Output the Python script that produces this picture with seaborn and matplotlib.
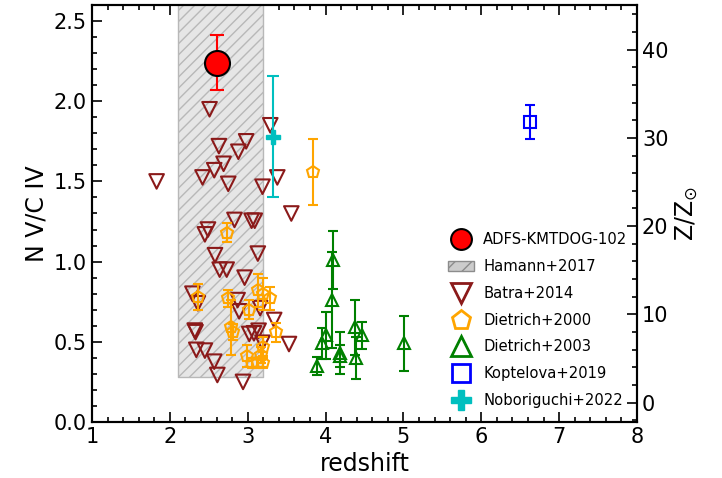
import numpy as np
import seaborn as sns
import matplotlib.pyplot as plt
from matplotlib.lines import Line2D
from matplotlib.patches import Patch
from matplotlib.ticker import MultipleLocator

# ADFS-KMTDOG-102
adfs_z = [2.60]
adfs_r = [2.24]
adfs_e = [0.17]

# Hamann+2017 region
ham_x = [2.1, 3.2]
ham_ylo = 0.28
ham_yhi = 3.0

# Batra+2014
batra_z = [1.83, 2.51, 3.29, 2.98, 2.63, 2.88, 2.69, 2.57, 2.42, 3.38, 2.75, 3.19,
           3.56, 2.83, 3.05, 3.09, 2.49, 2.45, 2.58, 3.13, 2.64, 2.73, 2.96, 2.29,
           2.36, 2.87, 2.89, 3.16, 2.32, 2.33, 2.34, 2.45, 2.57, 2.61, 2.94, 3.34,
           3.02, 3.08, 3.14, 3.19, 3.53]
batra_r = [1.50, 1.95, 1.85, 1.75, 1.72, 1.685, 1.61, 1.57, 1.525, 1.525, 1.485, 1.467,
           1.30, 1.26, 1.255, 1.255, 1.20, 1.17, 1.04, 1.05, 0.95, 0.95, 0.90, 0.80,
           0.74, 0.76, 0.69, 0.71, 0.57, 0.56, 0.45, 0.445, 0.376, 0.293, 0.25, 0.636,
           0.549, 0.553, 0.569, 0.494, 0.486]

# Dietrich+2000
d00_z = [3.84, 2.74, 2.36, 2.75, 2.78, 2.81, 3.13, 3.19, 3.29, 3.02, 3.36, 2.99,
         3.19, 3.17, 3.06, 3.13, 3.20]
d00_r = [1.56, 1.18, 0.78, 0.77, 0.59, 0.56, 0.82, 0.80, 0.77, 0.70, 0.56, 0.41,
         0.47, 0.42, 0.37, 0.37, 0.37]
d00_e = [0.205, 0.06, 0.08, 0.05, 0.17, 0.05, 0.10, 0.10, 0.07, 0.06, 0.06, 0.07,
         0.06, 0.05, 0.03, 0.03, 0.03]

# Dietrich+2003
d03_z = [3.89, 3.95, 4.00, 4.08, 4.10, 4.18, 4.19, 4.38, 4.39, 4.47, 5.01]
d03_r = [0.35, 0.49, 0.54, 0.76, 1.01, 0.43, 0.41, 0.59, 0.40, 0.54, 0.49]
d03_e = [0.055, 0.095, 0.145, 0.30, 0.18, 0.13, 0.07, 0.17, 0.13, 0.085, 0.17]

# Koptelova+2019
kop_z = [6.63]
kop_r = [1.87]
kop_e = [0.105]

# Noboriguchi+2022
nob_z = [3.32]
nob_r = [1.78]
nob_e = [0.375]

# conversion of N V/C IV to Z/Zsun (right axis)
r0 = 0.121
r_per_z = 0.05502

sns.set_style('ticks')
plt.rcParams['font.family'] = ['DejaVu Sans']
plt.rcParams.update({
    'text.color': 'black', 'axes.labelcolor': 'black', 'axes.edgecolor': 'black',
    'xtick.color': 'black', 'ytick.color': 'black',
    'xtick.direction': 'in', 'ytick.direction': 'in',
})

fig, ax = plt.subplots(figsize=(7.22, 4.78), dpi=100)
fig.subplots_adjust(left=0.1274, right=0.8823, top=0.9895, bottom=0.1172)

c_batra = '#8b1a1a'

ax.fill_between(ham_x, ham_ylo, ham_yhi, facecolor='0.9', edgecolor='0.72',
                hatch='///', linewidth=1.0, zorder=1)

sns.scatterplot(x=batra_z, y=batra_r, ax=ax, marker='v', s=110, color=c_batra,
                facecolor='none', edgecolor=c_batra, linewidth=1.5, zorder=3)

ax.errorbar(d00_z, d00_r, yerr=d00_e, fmt='p', ms=9, mfc='none', mec='orange',
            mew=1.5, ecolor='orange', elinewidth=1.5, capsize=3.5, capthick=1.5, zorder=4)
ax.errorbar(d03_z, d03_r, yerr=d03_e, fmt='^', ms=9, mfc='none', mec='green',
            mew=1.5, ecolor='green', elinewidth=1.5, capsize=3.5, capthick=1.5, zorder=4)
ax.errorbar(kop_z, kop_r, yerr=kop_e, fmt='s', ms=9, mfc='none', mec='blue',
            mew=1.5, ecolor='blue', elinewidth=1.5, capsize=3.5, capthick=1.5, zorder=4)
ax.errorbar(nob_z, nob_r, yerr=nob_e, fmt='P', ms=10, mfc='c', mec='c',
            ecolor='c', elinewidth=1.5, capsize=4, capthick=1.5, zorder=5)
ax.errorbar(adfs_z, adfs_r, yerr=adfs_e, fmt='o', ms=18, mfc='red', mec='black',
            mew=1.5, ecolor='red', elinewidth=1.5, capsize=5, capthick=1.5, zorder=6)

ax.set_xlim(1, 8)
ax.set_ylim(0, 2.6)
ax.xaxis.set_major_locator(MultipleLocator(1))
ax.xaxis.set_minor_locator(MultipleLocator(0.2))
ax.yaxis.set_major_locator(MultipleLocator(0.5))
ax.yaxis.set_minor_locator(MultipleLocator(0.1))
ax.tick_params(which='both', top=True, right=False, labelsize=15, width=1.2)
ax.tick_params(which='major', length=7)
ax.tick_params(which='minor', length=3.5)
ax.set_xlabel('redshift', fontsize=17)
ax.set_ylabel('N V/C IV', fontsize=17)
for sp in ax.spines.values():
    sp.set_linewidth(1.5)

ax2 = ax.twinx()
ax2.set_ylim((0 - r0) / r_per_z, (2.6 - r0) / r_per_z)
ax2.yaxis.set_major_locator(MultipleLocator(10))
ax2.yaxis.set_minor_locator(MultipleLocator(2))
ax2.tick_params(which='both', direction='in', labelsize=15, width=1.2)
ax2.tick_params(which='major', length=7)
ax2.tick_params(which='minor', length=3.5)
ax2.set_ylabel(r'Z/Z$_{\odot}$', fontsize=17)
for sp in ax2.spines.values():
    sp.set_linewidth(1.5)

handles = [
    Line2D([], [], ls='none', marker='o', ms=15, mfc='red', mec='black', mew=1.5),
    Patch(facecolor='0.8', edgecolor='0.55', hatch='//'),
    Line2D([], [], ls='none', marker='v', ms=14, mfc='none', mec=c_batra, mew=2),
    Line2D([], [], ls='none', marker='p', ms=14, mfc='none', mec='orange', mew=2),
    Line2D([], [], ls='none', marker='^', ms=14, mfc='none', mec='green', mew=2),
    Line2D([], [], ls='none', marker='s', ms=13, mfc='none', mec='blue', mew=2),
    Line2D([], [], ls='none', marker='P', ms=15, mfc='c', mec='c'),
]
labels = ['ADFS-KMTDOG-102', 'Hamann+2017', 'Batra+2014', 'Dietrich+2000',
          'Dietrich+2003', 'Koptelova+2019', 'Noboriguchi+2022']
ax.legend(handles, labels, loc='lower right', bbox_to_anchor=(1.008, 0.0),
          frameon=False, fontsize=10.6, labelspacing=0.8, handlelength=1.8,
          handletextpad=0.6, borderaxespad=0.55)

fig.savefig('out.png', dpi=100)
